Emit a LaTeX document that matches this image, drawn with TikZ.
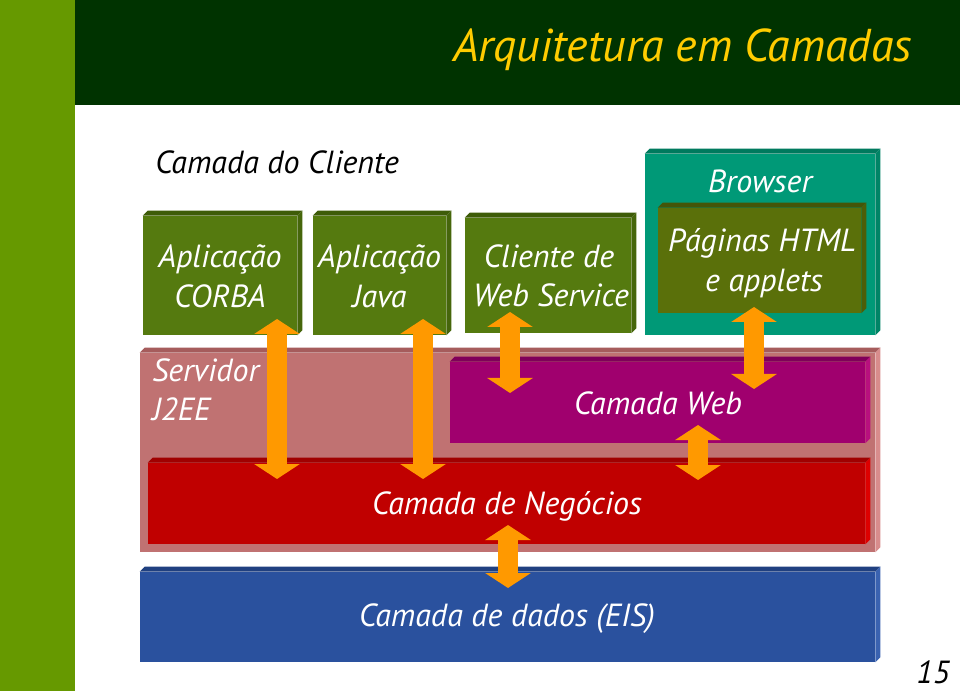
\documentclass[tikz,border=0pt]{standalone}
\usepackage{fontspec}
\setmainfont{PT Sans}
\usetikzlibrary{arrows.meta}
\definecolor{strip}{HTML}{669900}
\definecolor{header}{HTML}{003300}
\definecolor{titley}{HTML}{FFCC00}
\definecolor{cgreen}{HTML}{557A0F}
\definecolor{cgreentop}{HTML}{3E5C08}
\definecolor{cgreenside}{HTML}{46660B}
\definecolor{cteal}{HTML}{009977}
\definecolor{ctealtop}{HTML}{007A5E}
\definecolor{ctealside}{HTML}{008466}
\definecolor{colive}{HTML}{5A700A}
\definecolor{colivetop}{HTML}{445508}
\definecolor{coliveside}{HTML}{4C5E08}
\definecolor{cpink}{HTML}{C07272}
\definecolor{cpinktop}{HTML}{A65C5C}
\definecolor{cpinkside}{HTML}{D88C8C}
\definecolor{cpurple}{HTML}{A0006E}
\definecolor{cpurpletop}{HTML}{80005A}
\definecolor{cpurpleside}{HTML}{B8107E}
\definecolor{cred}{HTML}{C00000}
\definecolor{credtop}{HTML}{A00000}
\definecolor{credside}{HTML}{DD0000}
\definecolor{cblue}{HTML}{2A519E}
\definecolor{cbluetop}{HTML}{204080}
\definecolor{cblueside}{HTML}{3A62B0}
\definecolor{corange}{HTML}{FF9900}
\newcommand\bodyfont{\fontsize{24pt}{30pt}\selectfont\itshape}
\newcommand\bev[3]{%
  \fill[#2] (#1.north west) -- ++(5,-5) -- ([shift={(5,-5)}]#1.north east) -- (#1.north east) -- cycle;
  \fill[#3] (#1.north east) -- ++(5,-5) -- ([shift={(5,-5)}]#1.south east) -- (#1.south east) -- cycle;}
\begin{document}
\begin{tikzpicture}[x=0.75pt,y=-0.75pt,
  box/.style={inner sep=0pt},
  lbl/.style={inner sep=0pt, font=\bodyfont},
  wlbl/.style={lbl, text=white, anchor=base},
  fat/.style={draw=corange, line width=15pt,
    {Triangle[width=33.75pt,length=11.25pt]}-{Triangle[width=33.75pt,length=11.25pt]}}]
\useasboundingbox (0,0) rectangle (960,691);
\fill[white] (0,0) rectangle (960,691);
\fill[strip] (0,0) rectangle (75,691);
\fill[header] (75,0) rectangle (960,105);
\node[inner sep=0pt, anchor=base east, text=titley, font=\fontsize{34.5pt}{40pt}\selectfont\itshape] (title) at (912,62) {Arquitetura em Camadas};
\node[lbl, anchor=base west] (cliente) at (155,174) {Camada do Cliente};
% client boxes
\node[box, fill=cgreen, minimum width=115.5pt, minimum height=89.25pt] (corba) at (220,275.5) {};
\bev{corba}{cgreentop}{cgreenside}
\node[wlbl] (corba1) at (220,268) {Aplicação};
\node[wlbl] (corba2) at (220,308) {CORBA};
\node[box, fill=cgreen, minimum width=99.75pt, minimum height=89.25pt] (java) at (379.5,275.5) {};
\bev{java}{cgreentop}{cgreenside}
\node[wlbl] (java1) at (379.5,268) {Aplicação};
\node[wlbl] (java2) at (379.5,308) {Java};
\node[box, fill=cgreen, minimum width=124.5pt, minimum height=86.25pt] (ws) at (548,275.5) {};
\bev{ws}{cgreentop}{cgreenside}
\node[wlbl] (ws1) at (549,268) {Cliente de};
\node[wlbl] (ws2) at (551,307) {Web Service};
\node[box, fill=cteal, minimum width=172.5pt, minimum height=135.75pt] (browser) at (760,244.5) {};
\bev{browser}{ctealtop}{ctealside}
\node[wlbl] (browserlbl) at (760,193) {Browser};
\node[box, fill=colive, minimum width=152.25pt, minimum height=78.75pt] (html) at (759.5,260.5) {};
\bev{html}{colivetop}{coliveside}
\node[wlbl] (html1) at (762,252) {Páginas HTML};
\node[wlbl] (html2) at (764,292) {e applets};
% server
\node[box, fill=cpink, minimum width=551.25pt, minimum height=149.25pt] (server) at (507.5,452.5) {};
\bev{server}{cpinktop}{cpinkside}
\node[lbl, text=white, anchor=base west] (serv1) at (152,382) {Servidor};
\node[lbl, text=white, anchor=base west] (serv2) at (152,421) {J2EE};
\node[box, fill=cpurple, minimum width=311.25pt, minimum height=60.75pt] (web) at (657.5,402.5) {};
\bev{web}{cpurpletop}{cpurpleside}
\node[wlbl] (weblbl) at (658,414) {Camada Web};
\node[box, fill=cred, minimum width=537.75pt, minimum height=60.75pt] (biz) at (506.5,503.5) {};
\bev{biz}{credtop}{credside}
\node[wlbl] (bizlbl) at (507,514) {Camada de Negócios};
\node[box, fill=cblue, minimum width=551.25pt, minimum height=67.5pt] (data) at (507.5,617) {};
\bev{data}{cbluetop}{cblueside}
\node[wlbl] (datalbl) at (507,626) {Camada de dados (EIS)};
\node[lbl, anchor=base east] (page) at (950,683) {15};
% arrows
\coordinate (a1t) at (277,319); \coordinate (a1b) at (277,479);
\coordinate (a2t) at (423,319); \coordinate (a2b) at (423,479);
\coordinate (a3t) at (510,312); \coordinate (a3b) at (510,393);
\coordinate (a4t) at (754,307); \coordinate (a4b) at (754,389);
\coordinate (a5t) at (698,425); \coordinate (a5b) at (698,480);
\coordinate (a6t) at (508,525); \coordinate (a6b) at (508,588);
\draw[fat] (a1t) -- (a1b);
\draw[fat] (a2t) -- (a2b);
\draw[fat] (a3t) -- (a3b);
\draw[fat] (a4t) -- (a4b);
\draw[fat] (a5t) -- (a5b);
\draw[fat] (a6t) -- (a6b);
\end{tikzpicture}
\end{document}
